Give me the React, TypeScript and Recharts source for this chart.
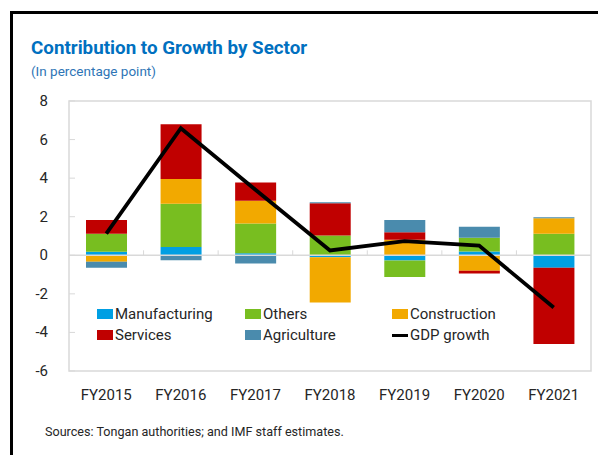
import React from 'react';
import {
  ComposedChart,
  Bar,
  Line,
  XAxis,
  YAxis,
  Legend,
  ReferenceLine,
  ReferenceArea,
} from 'recharts';

const years = ['FY2015', 'FY2016', 'FY2017', 'FY2018', 'FY2019', 'FY2020', 'FY2021'];
const manufacturing = [0.18, 0.43, 0.1, -0.1, -0.27, 0.19, -0.65];
const others = [0.94, 2.24, 1.55, 1.03, -0.85, 0.72, 1.12];
const construction = [-0.33, 1.29, 1.18, -2.35, 0.8, -0.8, 0.8];
const services = [0.71, 2.84, 0.95, 1.67, 0.39, -0.15, -3.95];
const agriculture = [-0.32, -0.26, -0.43, 0.05, 0.64, 0.57, 0.05];
const gdpGrowth = [1.12, 6.59, 3.4, 0.25, 0.73, 0.5, -2.71];
const yTicks = [-6, -4, -2, 0, 2, 4, 6, 8];

const data = years.map((year, i) => ({
  year,
  manufacturing: manufacturing[i],
  others: others[i],
  construction: construction[i],
  services: services[i],
  agriculture: agriculture[i],
  gdp: gdpGrowth[i],
}));

const FONT = 'Roboto, "Noto Sans", sans-serif';
const TEXT = '#262626';
const BORDER = '#D9D9D9';
const PLOT_LEFT = 69;

const legendItems = [
  { name: 'Manufacturing', color: '#009FE3', type: 'rect' },
  { name: 'Others', color: '#78BE20', type: 'rect' },
  { name: 'Construction', color: '#F2A900', type: 'rect' },
  { name: 'Services', color: '#C00000', type: 'rect' },
  { name: 'Agriculture', color: '#4A8BAD', type: 'rect' },
  { name: 'GDP growth', color: '#000000', type: 'line' },
];
const legendCols = [97, 245, 392];

const renderLegend = () => (
  <div style={{ position: 'relative', width: 500, height: 42, fontFamily: FONT, fontSize: 15, color: TEXT }}>
    {legendItems.map((item, i) => (
      <div
        key={item.name}
        style={{
          position: 'absolute',
          left: legendCols[i % 3] - 97,
          top: Math.floor(i / 3) * 21,
          display: 'flex',
          alignItems: 'center',
          whiteSpace: 'nowrap',
          lineHeight: '20px',
        }}
      >
        {item.type === 'rect' ? (
          <span style={{ display: 'inline-block', width: 16, height: 10, background: item.color, marginRight: 2 }} />
        ) : (
          <span style={{ display: 'inline-block', width: 16, height: 3, background: item.color, marginRight: 2 }} />
        )}
        {item.name}
      </div>
    ))}
  </div>
);

const YTick = (props: any) => {
  const { x, y, payload } = props;
  return (
    <g>
      <line x1={PLOT_LEFT} x2={PLOT_LEFT + 6} y1={y} y2={y} stroke={BORDER} />
      <text x={x} y={y} dy={5} textAnchor="end" fill={TEXT} fontSize={15} fontFamily={FONT}>
        {payload.value}
      </text>
    </g>
  );
};

// zero line with the small category-separator ticks
const ZeroLine = (props: any) => {
  const { x1, x2, y1 } = props;
  const step = (x2 - x1) / years.length;
  return (
    <g>
      <line x1={x1} x2={x2} y1={y1} y2={y1} stroke={BORDER} strokeWidth={1.5} />
      {years.slice(1).map((_, i) => (
        <line key={i} x1={x1 + step * (i + 1)} x2={x1 + step * (i + 1)} y1={y1} y2={y1 - 5} stroke={BORDER} />
      ))}
    </g>
  );
};

const App: React.FC = () => {
  return (
    <div style={{ position: 'absolute', left: 0, top: 0, width: 598, height: 455, background: '#fff', fontFamily: FONT }}>
      <div style={{ position: 'absolute', left: 10, top: 11, width: 588, height: 441, borderTop: '3px solid #000', borderLeft: '3px solid #000' }} />
      <div style={{ position: 'absolute', left: 31, top: 37, fontSize: 18.8, fontWeight: 700, color: '#0070C0', whiteSpace: 'nowrap' }}>
        Contribution to Growth by Sector
      </div>
      <div style={{ position: 'absolute', left: 31, top: 63, fontSize: 13.5, color: '#2E75B6', whiteSpace: 'nowrap' }}>
        (In percentage point)
      </div>
      <div style={{ position: 'absolute', left: 0, top: 0 }}>
        <ComposedChart
          width={598}
          height={455}
          data={data}
          stackOffset="sign"
          margin={{ top: 101, right: 7, bottom: 54, left: 29 }}
        >
          <ReferenceArea y1={-6} y2={8} fill="none" stroke={BORDER} strokeWidth={1.5} ifOverflow="visible" />
          <XAxis
            dataKey="year"
            axisLine={false}
            tickLine={false}
            height={30}
            tickMargin={12}
            tick={{ fill: TEXT, fontSize: 15, fontFamily: FONT }}
            interval={0}
          />
          <YAxis
            domain={[-6, 8]}
            ticks={yTicks}
            width={40}
            axisLine={false}
            tickLine={false}
            tickMargin={15}
            tick={<YTick />}
            interval={0}
          />
          <ReferenceLine y={0} shape={<ZeroLine />} />
          <Bar dataKey="manufacturing" name="Manufacturing" stackId="a" fill="#009FE3" barSize={41} isAnimationActive={false} />
          <Bar dataKey="others" name="Others" stackId="a" fill="#78BE20" barSize={41} isAnimationActive={false} />
          <Bar dataKey="construction" name="Construction" stackId="a" fill="#F2A900" barSize={41} isAnimationActive={false} />
          <Bar dataKey="services" name="Services" stackId="a" fill="#C00000" barSize={41} isAnimationActive={false} />
          <Bar dataKey="agriculture" name="Agriculture" stackId="a" fill="#4A8BAD" barSize={41} isAnimationActive={false} />
          <Line
            dataKey="gdp"
            name="GDP growth"
            type="linear"
            stroke="#000"
            strokeWidth={3.8}
            dot={false}
            activeDot={false}
            isAnimationActive={false}
          />
          <Legend
            content={renderLegend}
            layout="horizontal"
            verticalAlign="middle"
            align="center"
            wrapperStyle={{ position: 'absolute', left: 97, top: 304, width: 500, height: 42 }}
          />
        </ComposedChart>
      </div>
      <div style={{ position: 'absolute', left: 45, top: 424, fontSize: 12.6, color: TEXT, whiteSpace: 'nowrap' }}>
        Sources: Tongan authorities; and IMF staff estimates.
      </div>
    </div>
  );
};

export default App;
